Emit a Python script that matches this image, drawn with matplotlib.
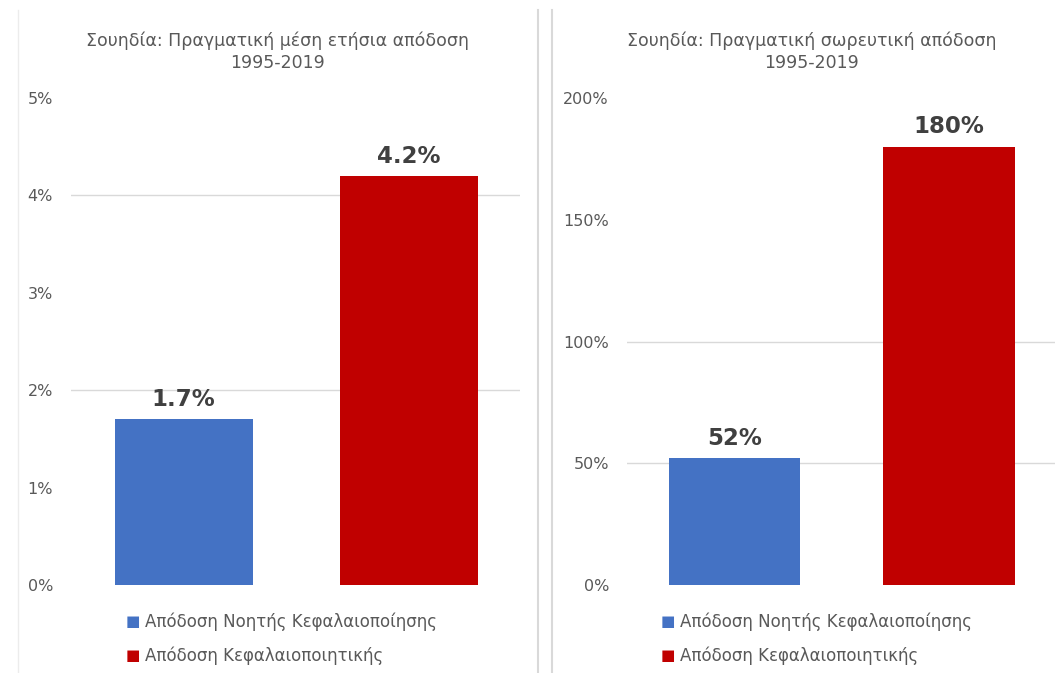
import matplotlib.pyplot as plt
from matplotlib.lines import Line2D
from matplotlib.ticker import FuncFormatter

# data
categories = ['Απόδοση Νοητής Κεφαλαιοποίησης', 'Απόδοση Κεφαλαιοποιητικής']
annual = [1.7, 4.2]
cumulative = [52, 180]
annual_labels = ['1.7%', '4.2%']
cumulative_labels = ['52%', '180%']
annual_grid = [2, 4]
cumulative_grid = [50, 100]
colors = ['#4472C4', '#C00000']
title_left = 'Σουηδία: Πραγματική μέση ετήσια απόδοση\n1995-2019'
title_right = 'Σουηδία: Πραγματική σωρευτική απόδοση\n1995-2019'

W, H = 1055, 673
fig = plt.figure(figsize=(W / 100, H / 100), dpi=100)

def px(x0, y0, x1, y1):
    return [x0 / W, 1 - y1 / H, (x1 - x0) / W, (y1 - y0) / H]

def panel(rect, values, ymax, step, grid, labels, title, title_x, leg_x, leg_sq):
    ax = fig.add_axes(rect)
    bars = ax.bar([0, 1], values, width=0.613, color=colors, zorder=3)
    ax.set_xlim(-0.5, 1.493)
    ax.set_ylim(0, ymax)
    ax.set_yticks([i * step for i in range(int(ymax / step) + 1)])
    ax.yaxis.set_major_formatter(FuncFormatter(lambda v, p: '%d%%' % round(v)))
    for g in grid:
        ax.axhline(g, color='#d9d9d9', linewidth=1, zorder=0)
    for s in ax.spines.values():
        s.set_visible(False)
    ax.set_xticks([])
    ax.tick_params(axis='y', length=0, labelsize=11.5, labelcolor='#595959', pad=13)
    for b, lab in zip(bars, labels):
        ax.annotate(lab, (b.get_x() + b.get_width() / 2, b.get_height()),
                    xytext=(0, 6), textcoords='offset points', ha='center', va='bottom',
                    fontsize=16.5, fontweight='bold', color='#404040')
    fig.text(title_x / W, 1 - 52 / H, title, ha='center', va='center',
             fontsize=12.5, color='#595959', linespacing=1.3)
    # legend
    for i, (c, name) in enumerate(zip(colors, categories)):
        y = 1 - (622 + 34 * i) / H
        fig.text(leg_sq / W, y, '■', color=c, fontsize=11, ha='left', va='center')
        fig.text(leg_x / W, y, name, color='#595959', fontsize=12, ha='left', va='center')
    return ax

panel(px(71, 98, 520, 585), annual, 5, 1, annual_grid, annual_labels,
      title_left, 278, 145, 126)
panel(px(627, 98, 1055, 585), cumulative, 200, 50, cumulative_grid, cumulative_labels,
      title_right, 812, 680, 661)

# separator lines
for xp in (538, 552):
    fig.add_artist(Line2D([xp / W, xp / W], [0, 1 - 10 / H], color='#d9d9d9', linewidth=1.5))
fig.add_artist(Line2D([18 / W, 18 / W], [0, 1 - 10 / H], color='#ececec', linewidth=1))

fig.savefig('out.png', dpi=100)
